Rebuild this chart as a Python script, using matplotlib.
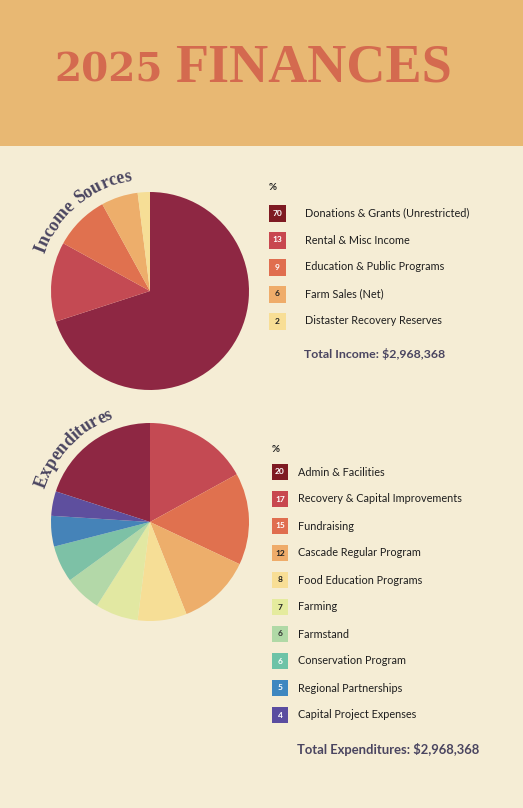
import numpy as np
import matplotlib
matplotlib.use("Agg")
import matplotlib.pyplot as plt
from matplotlib.font_manager import FontProperties

# ---------------- data ----------------
income_labels = ["Donations & Grants (Unrestricted)", "Rental & Misc Income",
                 "Education & Public Programs", "Farm Sales (Net)",
                 "Distaster Recovery Reserves"]
income_pct = [70, 13, 9, 6, 2]
income_total = "$2,968,368"

exp_labels = ["Admin & Facilities", "Recovery & Capital Improvements", "Fundraising",
              "Cascade Regular Program", "Food Education Programs", "Farming",
              "Farmstand", "Conservation Program", "Regional Partnerships",
              "Capital Project Expenses"]
exp_pct = [20, 17, 15, 12, 8, 7, 6, 6, 5, 4]
exp_total = "$2,968,368"

title_year = "2025"
title_word = "FINANCES"

# ---------------- style ----------------
W, H = 523, 808
BG = "#F5EDD5"
HEADER = "#E8B873"
TITLE_C = "#D46A4F"
DARK = "#4A4560"
TXT = "#1E1E1E"
pie_cols = ["#8E2743", "#C44A53", "#E0714F", "#EDAE6B", "#F6DE96",
            "#E2E8A2", "#B3D8A8", "#7DC1A6", "#4583B8", "#5E4F9E"]
box_cols = ["#7E1A22", "#C8474F", "#E06E4F", "#EFAC6A", "#F8DE95",
            "#E5EB9E", "#B0D9A6", "#6DC3A7", "#3E87C0", "#5A4DA0"]
num_cols = ["white", "white", "white", "#222222", "#222222",
            "#222222", "#333333", "white", "white", "white"]

fig = plt.figure(figsize=(W / 100, H / 100), dpi=100)
fig.patch.set_facecolor(BG)
ax = fig.add_axes([0, 0, 1, 1])
ax.set_xlim(0, W)
ax.set_ylim(0, H)
ax.set_aspect("equal")
ax.axis("off")

def Y(y):
    return H - y

# header band
ax.add_patch(plt.Rectangle((0, Y(146)), W, 146, color=HEADER, zorder=0, lw=0))
ax.text(163, Y(81), title_year, ha="right", va="baseline", color=TITLE_C,
        fontsize=28, fontweight="bold", family="DejaVu Serif")
ax.text(175, Y(81), title_word, ha="left", va="baseline", color=TITLE_C,
        fontsize=39, fontweight="bold", family="Liberation Serif")

# ---------------- pies ----------------
inc_c = (150, Y(291))
exp_c = (150, Y(522))
R = 99
ax.pie(income_pct, colors=pie_cols[:len(income_pct)], startangle=90, counterclock=False,
       center=inc_c, radius=R, wedgeprops=dict(linewidth=0), frame=True)
# expenditures: first slice (Admin) sits counter-clockwise from 12 o'clock
start_exp = 90 + 360 * exp_pct[0] / sum(exp_pct)
ax.pie(exp_pct, colors=pie_cols[:len(exp_pct)], startangle=start_exp, counterclock=False,
       center=exp_c, radius=R, wedgeprops=dict(linewidth=0), frame=True)
ax.set_xlim(0, W)
ax.set_ylim(0, H)
ax.axis("off")

# ---------------- curved text ----------------
fig.canvas.draw()
renderer = fig.canvas.get_renderer()

def tw(s, fp):
    if s == "":
        return 0.0
    w, h, d = renderer.get_text_width_height_descent(s, fp, ismath=False)
    return w

def curved(s, center, radius, mid_deg, fp, color):
    total = tw(s, fp)
    sp = tw("a a", fp) - tw("aa", fp)
    lefts = []
    for i in range(len(s)):
        pre = s[:i]
        if pre.endswith(" "):
            lefts.append(tw(pre.rstrip(" "), fp) + sp * (len(pre) - len(pre.rstrip(" "))))
        else:
            lefts.append(tw(pre, fp))
    start = np.deg2rad(mid_deg) + total / (2 * radius)
    for i, ch in enumerate(s):
        if ch == " ":
            continue
        p = lefts[i] + tw(ch, fp) / 2
        th = start - p / radius
        x = center[0] + radius * np.cos(th)
        y = center[1] + radius * np.sin(th)
        ax.text(x, y, ch, fontproperties=fp, color=color, ha="center", va="baseline",
                rotation=np.rad2deg(th) - 90, rotation_mode="anchor")

fp_arc = FontProperties(family="Liberation Serif", weight="bold", size=12.8)
curved("Income Sources", inc_c, 112, 130, fp_arc, DARK)
curved("Expenditures", exp_c, 110, 136, fp_arc, DARK)

# ---------------- legends ----------------
def legend(x_box, y_pct, y0, labels, vals, x_txt, total_label, y_total, bs, tsize):
    ax.text(x_box + 4, Y(y_pct), "%", ha="center", va="center", fontsize=7,
            fontweight="bold", color=TXT, family="Lato")
    for i, (lab, v) in enumerate(zip(labels, vals)):
        yc = y0 + 27 * i
        ax.add_patch(plt.Rectangle((x_box, Y(yc) - bs / 2), bs, bs, color=box_cols[i], lw=0))
        ax.text(x_box + bs / 2, Y(yc), str(v), ha="center", va="center", fontsize=6,
                fontweight="bold", color=num_cols[i], family="Lato")
        ax.text(x_txt, Y(yc), lab, ha="left", va="center", fontsize=7.8,
                color=TXT, family="Lato")
    ax.text(x_txt - 1, Y(y_total), total_label, ha="left", va="center", fontsize=tsize,
            fontweight="bold", color=DARK, family="Lato")

legend(269, 188, 213, income_labels, income_pct, 305,
       "Total Income: " + income_total, 354, 17, 8.9)
legend(272, 450, 472, exp_labels, exp_pct, 298,
       "Total Expenditures: " + exp_total, 750, 16, 9.4)

fig.savefig("out.png", dpi=100, facecolor=BG)
